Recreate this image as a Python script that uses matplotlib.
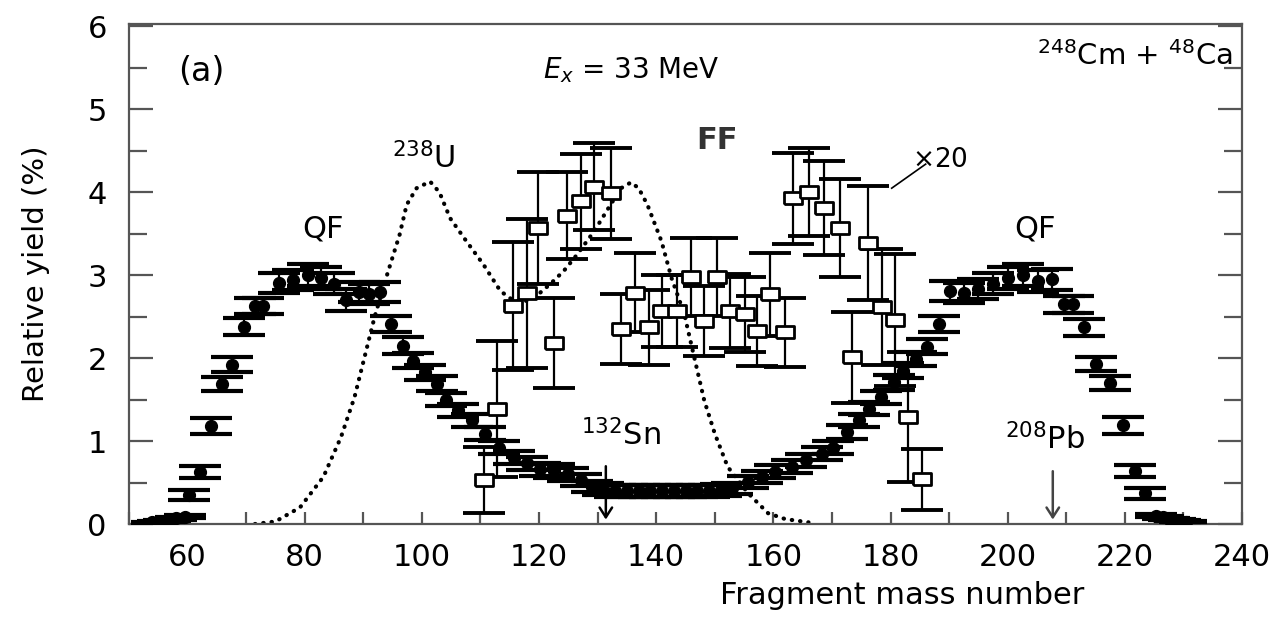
import numpy as np
import matplotlib
matplotlib.use('Agg')
import matplotlib.pyplot as plt
from matplotlib.ticker import MultipleLocator

plt.rcParams['font.family'] = ['DejaVu Sans']
plt.rcParams['mathtext.fontset'] = 'dejavusans'

# QF yields (filled circles)
qf_mass = [54.0, 55.0, 56.0, 57.0, 58.0, 59.5, 60.2, 62.2, 64.0, 65.8, 67.5, 69.6,
           71.5, 72.8, 75.6, 78.0, 80.5, 82.8, 85.0, 87.0, 89.3, 90.9, 92.8, 94.8,
           96.8, 98.5, 100.5, 102.5, 104.2, 106.2, 108.5, 110.8, 113.1, 115.7, 118.0,
           120.2, 122.5, 124.9, 127.1, 129.0, 131.0, 133.0, 135.0, 137.0, 139.0,
           141.0, 143.0, 145.0, 147.0, 149.0, 151.0, 153.0, 155.7, 158.0, 160.3,
           163.1, 165.6, 168.3, 170.2, 172.6, 174.6, 176.3, 178.3, 180.6, 182.2,
           184.3, 186.3, 188.3, 190.2, 192.5, 195.0, 197.5, 200.0, 202.6, 205.2,
           207.6, 209.6, 211.2, 213.1, 215.1, 217.4, 219.7, 221.7, 223.4, 225.3,
           226.5, 227.5, 228.5, 229.5, 230.5]
qf_yield = [0.02, 0.03, 0.04, 0.05, 0.07, 0.09, 0.35, 0.63, 1.18, 1.69, 1.92, 2.38,
            2.63, 2.63, 2.91, 2.94, 3.00, 2.97, 2.90, 2.70, 2.80, 2.77, 2.80, 2.41,
            2.15, 1.97, 1.83, 1.69, 1.50, 1.37, 1.25, 1.09, 0.92, 0.80, 0.73,
            0.66, 0.64, 0.60, 0.53, 0.45, 0.42, 0.40, 0.40, 0.40, 0.40,
            0.40, 0.40, 0.40, 0.40, 0.40, 0.41, 0.43, 0.51, 0.57, 0.63,
            0.69, 0.77, 0.85, 0.92, 1.11, 1.25, 1.39, 1.53, 1.71, 1.85,
            1.99, 2.14, 2.41, 2.81, 2.79, 2.83, 2.90, 2.97, 3.00, 2.93,
            2.95, 2.65, 2.65, 2.37, 1.93, 1.70, 1.19, 0.64, 0.37, 0.10,
            0.08, 0.06, 0.05, 0.04, 0.03]
qf_err = [0.01, 0.01, 0.01, 0.01, 0.02, 0.02, 0.065, 0.07, 0.10, 0.08, 0.09, 0.10,
          0.10, 0.10, 0.12, 0.12, 0.13, 0.13, 0.13, 0.13, 0.12, 0.12, 0.12, 0.10,
          0.10, 0.09, 0.09, 0.09, 0.08, 0.08, 0.08, 0.08, 0.08, 0.08, 0.08,
          0.08, 0.08, 0.08, 0.07, 0.07, 0.07, 0.07, 0.07, 0.07, 0.07,
          0.07, 0.07, 0.07, 0.07, 0.07, 0.07, 0.07, 0.07, 0.07, 0.08,
          0.08, 0.08, 0.08, 0.08, 0.08, 0.08, 0.08, 0.08, 0.09, 0.09,
          0.09, 0.09, 0.10, 0.12, 0.12, 0.12, 0.13, 0.13, 0.13, 0.13,
          0.13, 0.10, 0.10, 0.10, 0.09, 0.08, 0.10, 0.07, 0.065, 0.02,
          0.02, 0.01, 0.01, 0.01, 0.01]

# FF yields x20 (open squares)
ff_mass = [110.6, 112.8, 115.5, 118.0, 119.9, 122.5, 124.8, 127.1, 129.4, 132.2,
           134.0, 136.4, 138.7, 141.0, 143.5, 145.9, 148.2, 150.3, 152.6, 155.1,
           157.2, 159.4, 162.0, 163.3, 166.0, 168.7, 171.4, 173.5, 176.2, 178.5,
           180.7, 183.0, 185.3]
ff_yield = [0.53, 1.39, 2.63, 2.78, 3.57, 2.18, 3.72, 3.89, 4.07, 3.99,
            2.35, 2.79, 2.37, 2.57, 2.57, 2.98, 2.45, 2.98, 2.57, 2.53,
            2.33, 2.77, 2.31, 3.93, 4.00, 3.81, 3.57, 2.01, 3.39, 2.62,
            2.46, 1.29, 0.54]
ff_err = [0.40, 0.82, 0.77, 0.90, 0.68, 0.54, 0.52, 0.57, 0.52, 0.55,
          0.42, 0.48, 0.45, 0.43, 0.43, 0.47, 0.42, 0.47, 0.45, 0.45,
          0.42, 0.50, 0.42, 0.55, 0.53, 0.57, 0.59, 0.55, 0.69, 0.70,
          0.80, 0.78, 0.37]

# 238U fission curve (dotted)
u_mass = [71.5, 75.0, 79.2, 83.2, 86.2, 88.5, 90.2, 91.9, 93.9, 96.2, 97.4, 99.1,
          101.4, 103.0, 104.8, 107.6, 110.5, 113.4, 115.5, 117.5, 120.2, 122.0,
          124.2, 126.5, 129.4, 132.2, 134.0, 135.7, 137.0, 138.5, 140.9, 142.6,
          144.8, 146.2, 148.2, 150.0, 152.2, 155.7, 159.1, 162.0, 166.0]
u_yield = [0.0, 0.03, 0.20, 0.57, 1.05, 1.53, 2.01, 2.49, 2.97, 3.49, 3.85, 4.05,
           4.13, 4.00, 3.69, 3.41, 3.13, 2.81, 2.70, 2.68, 2.79, 2.90,
           3.05, 3.25, 3.53, 3.85, 4.05, 4.12, 4.05, 3.85, 3.41, 2.97,
           2.53, 2.10, 1.49, 1.09, 0.69, 0.37, 0.13, 0.06, 0.02]

fig = plt.figure(figsize=(12.81, 6.23), dpi=100)
ax = fig.add_axes([129 / 1281, 1 - 524 / 623, 1113 / 1281, 500 / 623])

ax.plot(u_mass, u_yield, color='k', lw=3.0, linestyle=(0, (0.1, 1.9)),
        dash_capstyle='round', zorder=2)

ax.errorbar(qf_mass, qf_yield, yerr=qf_err, fmt='o', color='k', ms=8.5,
            capsize=15, capthick=3, elinewidth=1.6, zorder=3)

rect = [(-1.4, -1), (1.4, -1), (1.4, 1), (-1.4, 1), (-1.4, -1)]
ax.errorbar(ff_mass, ff_yield, yerr=ff_err, fmt='none', ecolor='k',
            capsize=15, capthick=2.8, elinewidth=1.6, zorder=4)
ax.plot(ff_mass, ff_yield, linestyle='none', marker=rect, ms=12.5, mfc='white',
        mec='k', mew=2, zorder=5)

ax.set_xlim(50, 240)
ax.set_ylim(0, 6.03)
ax.set_xticks(range(60, 241, 20))
ax.xaxis.set_minor_locator(MultipleLocator(10))
ax.set_yticks(range(0, 7))
ax.yaxis.set_minor_locator(MultipleLocator(0.5))

spine_c = '#555555'
for s in ax.spines.values():
    s.set_color(spine_c)
    s.set_linewidth(1.6)
ax.tick_params(axis='x', which='both', direction='in', length=8.5, width=1.6,
               color=spine_c, top=False, labelsize=22, pad=14)
ax.tick_params(axis='y', which='major', direction='in', length=17, width=1.6,
               color=spine_c, right=True, labelsize=22, pad=16)
ax.tick_params(axis='y', which='minor', direction='in', length=13, width=1.6,
               color=spine_c, right=True)

ax.set_xlabel('Fragment mass number', fontsize=22)
ax.xaxis.set_label_coords(0.695, -0.115)
ax.set_ylabel('Relative yield (%)', fontsize=21)
ax.yaxis.set_label_coords(-0.071, 0.5)

ax.text(62.3, 5.46, '(a)', fontsize=24, ha='center', va='center')
ax.text(135.7, 5.48, r'$E_x$ = 33 MeV', fontsize=20, ha='center', va='center')
ax.text(238.5, 5.64, r'$^{248}$Cm + $^{48}$Ca', fontsize=21, ha='right', va='center')
ax.text(83.1, 3.56, 'QF', fontsize=22, ha='center', va='center')
ax.text(204.7, 3.56, 'QF', fontsize=22, ha='center', va='center')
ax.text(150.4, 4.62, 'FF', fontsize=22, ha='center', va='center',
        color='#333333', fontweight='bold')
ax.text(100.3, 4.41, r'$^{238}$U', fontsize=22, ha='center', va='center')
ax.text(188.5, 4.39, r'$\times$20', fontsize=19, ha='center', va='center')
ax.plot([180.2, 186.0], [4.05, 4.34], color='k', lw=1.2)

ax.text(134.0, 1.07, r'$^{132}$Sn', fontsize=22, ha='center', va='center')
ax.annotate('', xy=(131.4, 0.02), xytext=(131.4, 0.73),
            arrowprops=dict(arrowstyle='->,head_length=0.7,head_width=0.45',
                            lw=1.8, color='k'), zorder=6)
ax.text(206.4, 1.02, r'$^{208}$Pb', fontsize=22, ha='center', va='center')
ax.annotate('', xy=(207.7, 0.02), xytext=(207.7, 0.67),
            arrowprops=dict(arrowstyle='->,head_length=0.7,head_width=0.45',
                            lw=1.8, color='#444444'), zorder=6)

fig.savefig('out.png', dpi=100)
